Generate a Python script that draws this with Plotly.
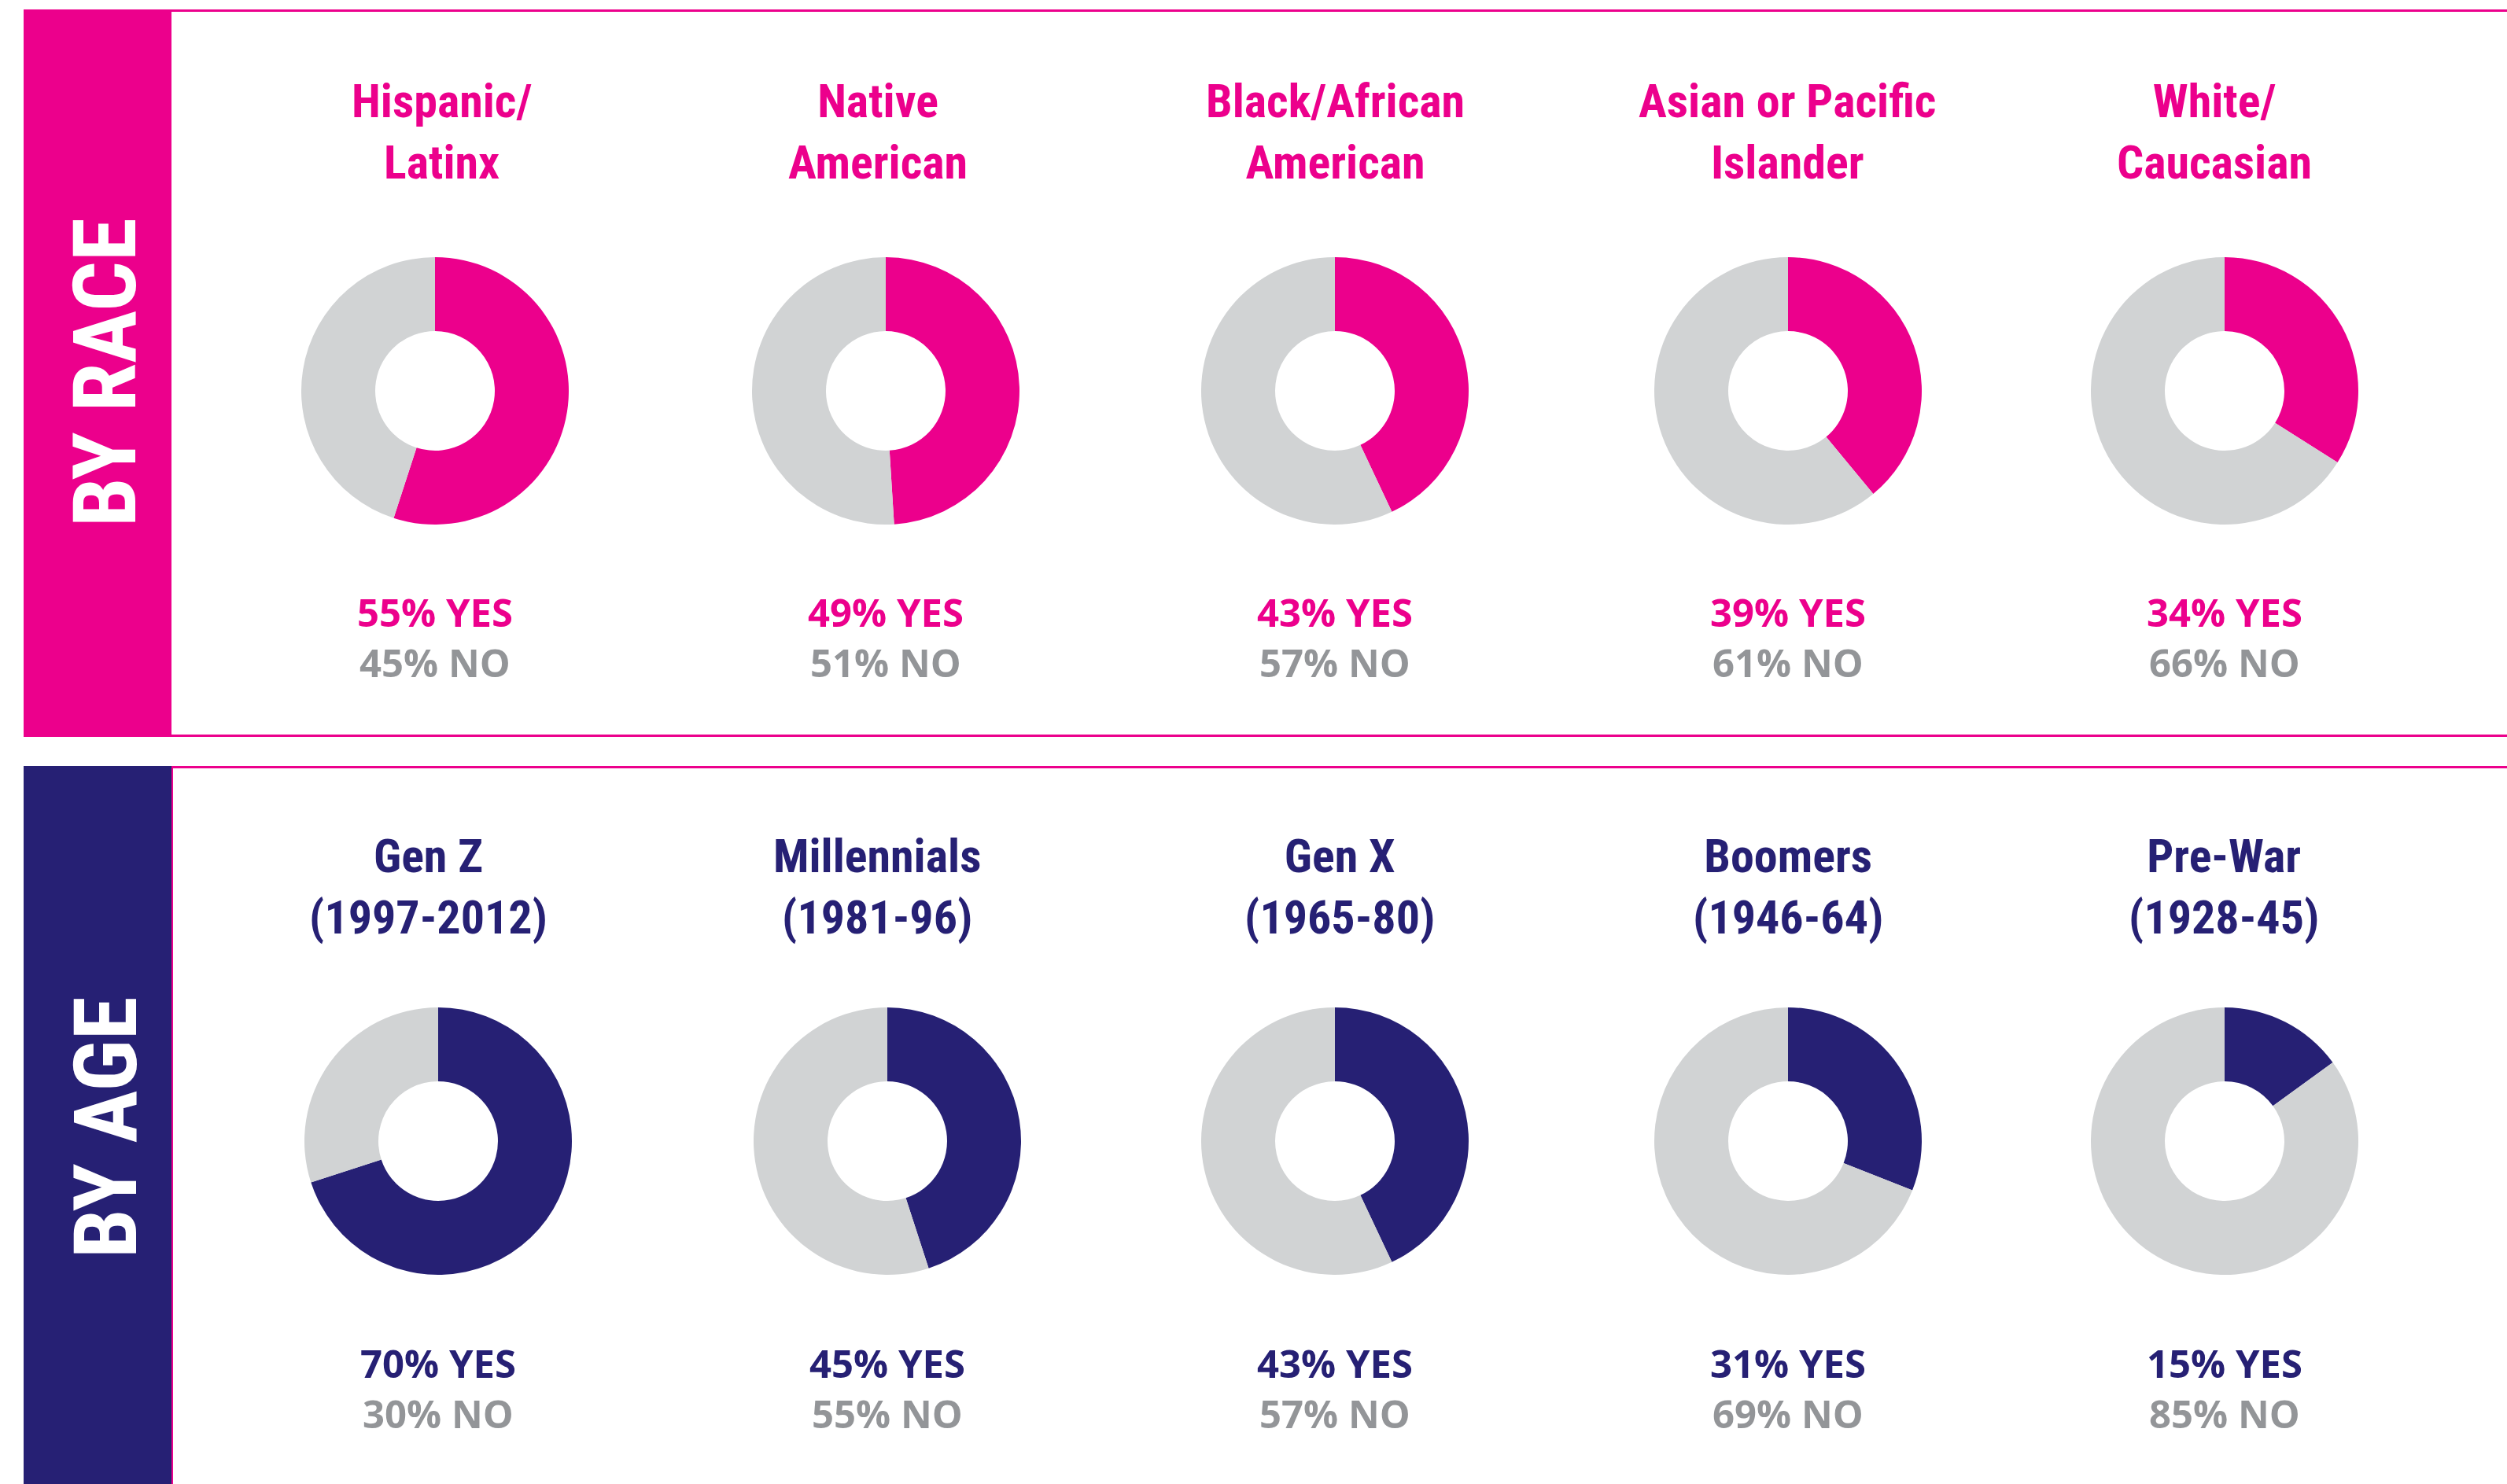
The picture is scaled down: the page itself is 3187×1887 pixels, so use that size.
import plotly.graph_objects as go

# ---------------- data ----------------
race_groups = ["Hispanic/<br>Latinx", "Native<br>American", "Black/African<br>American",
               "Asian or Pacific<br>Islander", "White/<br>Caucasian"]
race_yes = [55, 49, 43, 39, 34]
race_no = [45, 51, 57, 61, 66]

age_groups = ["Gen Z<br>(1997-2012)", "Millennials<br>(1981-96)", "Gen X<br>(1965-80)",
              "Boomers<br>(1946-64)", "Pre-War<br>(1928-45)"]
age_yes = [70, 45, 43, 31, 15]
age_no = [30, 55, 57, 69, 85]

section_labels = ["BY RACE", "BY AGE"]

# ---------------- style / layout ----------------
W, H = 3187, 1887
PINK = "#EC008C"
NAVY = "#262074"
GRAY = "#D1D3D4"
GRAY_TXT = "#939598"
TITLE_FONT = "Roboto Condensed, Open Sans Condensed, sans-serif"
PCT_FONT = "Open Sans, Noto Sans, sans-serif"

race_cx = [553, 1126, 1697, 2273, 2828]
age_cx = [557, 1128, 1697, 2273, 2828]
race_title_x = [561, 1116, 1697, 2272, 2815]
age_title_x = [544, 1115, 1703, 2273, 2827]
R = 170


def px(x):
    return x / W


def py(y):
    return 1 - y / H


rows = [
    dict(groups=race_groups, yes=race_yes, no=race_no, color=PINK, cx=race_cx,
         tx=race_title_x, cy=497, title_y=168, pct_y=810,
         band=(12, 937), label_y=474),
    dict(groups=age_groups, yes=age_yes, no=age_no, color=NAVY, cx=age_cx,
         tx=age_title_x, cy=1451, title_y=1127, pct_y=1765,
         band=(974, 1887), label_y=1434),
]

fig = go.Figure()
annotations = []
shapes = []

for ri, row in enumerate(rows):
    for i, g in enumerate(row["groups"]):
        cx, cy = row["cx"][i], row["cy"]
        fig.add_trace(go.Pie(
            values=[row["yes"][i], row["no"][i]],
            labels=["Yes", "No"],
            marker=dict(colors=[row["color"], GRAY], line=dict(width=0)),
            hole=0.447,
            sort=False,
            direction="clockwise",
            rotation=0,
            textinfo="none",
            hoverinfo="label+percent",
            showlegend=False,
            domain=dict(x=[px(cx - R), px(cx + R)], y=[py(cy + R), py(cy - R)]),
        ))
        annotations.append(dict(
            x=px(row["tx"][i]), y=py(row["title_y"]), xref="paper", yref="paper",
            text=g, showarrow=False, xanchor="center", yanchor="middle",
            font=dict(family=TITLE_FONT, size=60, color=row["color"], weight="bold"),
        ))
        annotations.append(dict(
            x=px(cx), y=py(row["pct_y"]), xref="paper", yref="paper",
            text=(f"{row['yes'][i]}% YES<br>"
                  f"<span style='color:{GRAY_TXT}'>{row['no'][i]}% NO</span>"),
            showarrow=False, xanchor="center", yanchor="middle", align="center",
            font=dict(family=PCT_FONT, size=49, color=row["color"], weight="bold"),
        ))

    # section band
    y0, y1 = row["band"]
    shapes.append(dict(type="rect", xref="paper", yref="paper",
                       x0=px(30), x1=px(218), y0=py(y1), y1=py(y0),
                       fillcolor=row["color"], line=dict(width=0), layer="below"))
    annotations.append(dict(
        x=px(134), y=py(row["label_y"]), xref="paper", yref="paper",
        text=section_labels[ri], showarrow=False, textangle=-90,
        xanchor="center", yanchor="middle",
        font=dict(family=TITLE_FONT, size=112, color="white", weight="bold"),
    ))

# pink rules
for yy in [13.5, 935.5, 975.5]:
    shapes.append(dict(type="line", xref="paper", yref="paper",
                       x0=px(218), x1=1, y0=py(yy), y1=py(yy),
                       line=dict(color=PINK, width=3)))
shapes.append(dict(type="line", xref="paper", yref="paper",
                   x0=px(219), x1=px(219), y0=0, y1=py(975),
                   line=dict(color=PINK, width=2)))

fig.update_layout(
    width=W, height=H,
    margin=dict(l=0, r=0, t=0, b=0),
    paper_bgcolor="white", plot_bgcolor="white",
    shapes=shapes, annotations=annotations,
    showlegend=False,
)

fig.write_html("out.html", config={"displayModeBar": False},
               post_script="document.body.style.margin='0';")
